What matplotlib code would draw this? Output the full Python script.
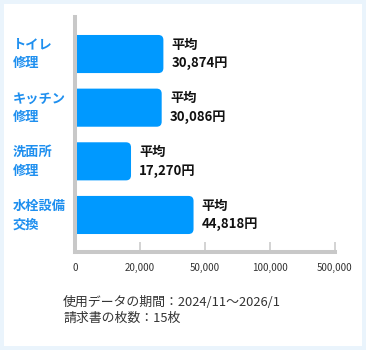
import matplotlib
matplotlib.use("Agg")
import matplotlib.pyplot as plt
import numpy as np
from matplotlib.patches import Rectangle, FancyBboxPatch
from matplotlib.transforms import blended_transform_factory, IdentityTransform

plt.rcParams['font.family'] = ['Noto Sans CJK JP', 'DejaVu Sans']

categories = ["トイレ\n修理", "キッチン\n修理", "洗面所\n修理", "水栓設備\n交換"]
averages = [30874, 30086, 17270, 44818]
tick_values = [0, 20000, 50000, 100000, 500000]
tick_labels = ["0", "20,000", "50,000", "100,000", "500,000"]
footer = ["使用データの期間：2024/11〜2026/1", "請求書の枚数：15枚"]

bar_color = "#0099FF"
label_color = "#1E8FEF"
axis_color = "#C8C8C8"

# uneven axis: each tick gets the same width
tick_pos = np.arange(len(tick_values))
def forward(v):
    return np.interp(v, tick_values, tick_pos)
def inverse(v):
    return np.interp(v, tick_pos, tick_values)

W, H = 366, 350
fig = plt.figure(figsize=(W / 100, H / 100), dpi=100, facecolor="#EAF4FC")
fig.patches.append(Rectangle((4 / W, 4 / H), 358 / W, 342 / H, transform=fig.transFigure,
                             facecolor="white", edgecolor="none", zorder=-5))

ax = fig.add_axes([75 / W, 98 / H, 259.5 / W, 235 / H])
ax.set_facecolor("none")
ax.set_xscale("function", functions=(forward, inverse))
ax.set_xlim(0, 500000)
ax.set_ylim(len(categories) - 1 + 0.69, -0.69)

y = np.arange(len(categories))
bars = ax.barh(y, averages, height=0.71, color=bar_color)

ax.set_xticks(tick_values)
ax.set_xticklabels(tick_labels)
ax.tick_params(axis="x", direction="in", length=7.5, width=1.1, color=axis_color,
               labelsize=7, labelcolor="#333333", pad=8)
ax.set_yticks([])
for s in ["top", "right"]:
    ax.spines[s].set_visible(False)
for s in ["left", "bottom"]:
    ax.spines[s].set_color(axis_color)
    ax.spines[s].set_linewidth(2.9)
    ax.spines[s].set_zorder(3)

# rounded bar ends
fig.canvas.draw()
for b in bars:
    ext = b.get_window_extent()
    b.set_visible(False)
    p = FancyBboxPatch((ext.x0 - 8, ext.y0), ext.width + 8, ext.height,
                       boxstyle="round,pad=0,rounding_size=5", transform=IdentityTransform(),
                       facecolor=bar_color, edgecolor="none", zorder=2)
    ax.add_artist(p)

trans = blended_transform_factory(fig.transFigure, ax.transData)
for i, cat in enumerate(categories):
    ax.text(13 / W, i, cat, transform=trans, ha="left", va="center", fontsize=9.5,
            fontweight="bold", color=label_color, linespacing=1.4, clip_on=False)

for i, v in enumerate(averages):
    ax.annotate(f"平均\n{v:,}円", (v, i), xytext=(6, 0), textcoords="offset points",
                ha="left", va="center", fontsize=9.5, fontweight="bold", color="#111111",
                linespacing=1.4)

for k, line in enumerate(footer):
    fig.text(63 / W, 1 - (302 + k * 16.5) / H, line, ha="left", va="center",
             fontsize=9.3, color="#333333")

fig.savefig("out.png", dpi=100, facecolor=fig.get_facecolor())
